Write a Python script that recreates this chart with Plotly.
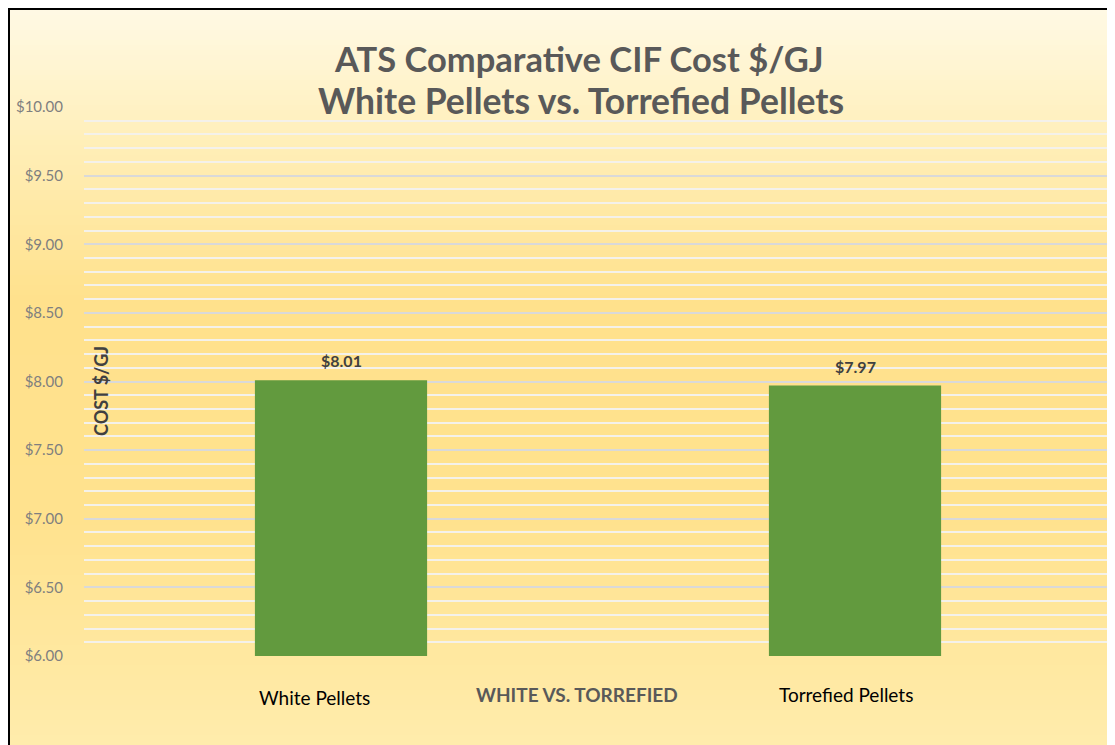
import plotly.graph_objects as go

categories = ["White Pellets", "Torrefied Pellets"]
costs = [8.01, 7.97]
y_ticks = [6.0, 6.5, 7.0, 7.5, 8.0, 8.5, 9.0, 9.5, 10.0]
title_lines = ["ATS Comparative CIF Cost $/GJ", "White Pellets vs. Torrefied Pellets"]
x_title = "WHITE VS. TORREFIED"
y_title = "COST $/GJ"

OFF = 8  # page body margin
W, H = 1115 - OFF, 745 - OFF
L, R, T, B = 84 - OFF, 1112 - OFF, 107 - OFF, 656 - OFF
pw, ph = R - L, B - T

def px_x(p):
    return (p - OFF - L) / pw

def px_y(p):
    return (B - (p - OFF)) / ph

FONT = "Lato"

fig = go.Figure()
fig.add_trace(go.Bar(
    x=categories, y=costs, width=0.335,
    marker=dict(color="#629A3E", line=dict(width=0)),
    hoverinfo="x+y",
))

# background gradient bands (style only)
stops = [(0, (255, 250, 232)), (150, (255, 238, 182)), (300, (255, 225, 140)),
         (520, (255, 226, 142)), (745, (255, 236, 172))]
def col(p):
    for (a, ca), (b, cb) in zip(stops, stops[1:]):
        if a <= p <= b:
            t = (p - a) / (b - a)
            return "rgb(%d,%d,%d)" % tuple(round(ca[i] + (cb[i] - ca[i]) * t) for i in range(3))
    return "rgb(255,236,172)"

shapes = []
step = 5
for p in range(0, 760, step):
    shapes.append(dict(type="rect", xref="paper", yref="paper", layer="below",
                       x0=px_x(0), x1=px_x(1125), y0=px_y(p + step + 0.5), y1=px_y(p),
                       fillcolor=col(p + step / 2), line=dict(width=0)))
# frame
shapes.append(dict(type="rect", xref="paper", yref="paper", layer="above",
                   x0=px_x(9), x1=px_x(1113), y0=px_y(770), y1=px_y(9),
                   fillcolor="rgba(0,0,0,0)", line=dict(color="#000000", width=2)))

annotations = [
    dict(text=f"<b>{title_lines[0]}</b>", xref="paper", yref="paper", x=px_x(579), y=px_y(59),
         showarrow=False, font=dict(family=FONT, size=34.5, color="#595959"), xanchor="center", yanchor="middle"),
    dict(text=f"<b>{title_lines[1]}</b>", xref="paper", yref="paper", x=px_x(581), y=px_y(100),
         showarrow=False, font=dict(family=FONT, size=35.5, color="#595959"), xanchor="center", yanchor="middle"),
    dict(text=f"<b>{x_title}</b>", xref="paper", yref="paper", x=px_x(577), y=px_y(694),
         showarrow=False, font=dict(family=FONT, size=19, color="#595959"), xanchor="center", yanchor="middle"),
    dict(text=f"<b>{y_title}</b>", xref="paper", yref="paper", x=px_x(101), y=px_y(391), textangle=-90,
         showarrow=False, font=dict(family=FONT, size=18, color="#404040"), xanchor="center", yanchor="middle"),
]
label_y = [697, 694]
label_dx = [-27, -9]
for c, ly, dx in zip(categories, label_y, label_dx):
    annotations.append(dict(text=c, xref="x", yref="paper", x=c, y=px_y(ly), showarrow=False,
                            xshift=dx, font=dict(family=FONT, size=19, color="#000000"),
                            xanchor="center", yanchor="middle"))
for c, v in zip(categories, costs):
    annotations.append(dict(text=f"<b>${v:.2f}</b>", xref="x", yref="y", x=c, y=v, showarrow=False,
                            font=dict(family=FONT, size=16, color="#404040"),
                            xanchor="center", yanchor="bottom", yshift=8))

fig.update_layout(
    width=W, height=H,
    margin=dict(l=L, r=W - R, t=T, b=H - B, pad=0),
    paper_bgcolor="#FFE38F", plot_bgcolor="rgba(0,0,0,0)",
    showlegend=False, shapes=shapes, annotations=annotations,
)
fig.update_xaxes(showticklabels=False, showgrid=False, zeroline=False, showline=False, ticks="")
fig.update_yaxes(range=[6, 10], tickvals=y_ticks, ticktext=[f"${v:.2f}" for v in y_ticks],
                 showgrid=True, gridcolor="#D9D9D9", gridwidth=2, zeroline=False, showline=False,
                 ticks="", ticklabelstandoff=20,
                 tickfont=dict(family=FONT, size=15, color="#7F7F7F"),
                 minor=dict(dtick=0.1, tick0=6, showgrid=True, gridcolor="#F4F1EA", gridwidth=1.5))

fig.write_html("out.html")
